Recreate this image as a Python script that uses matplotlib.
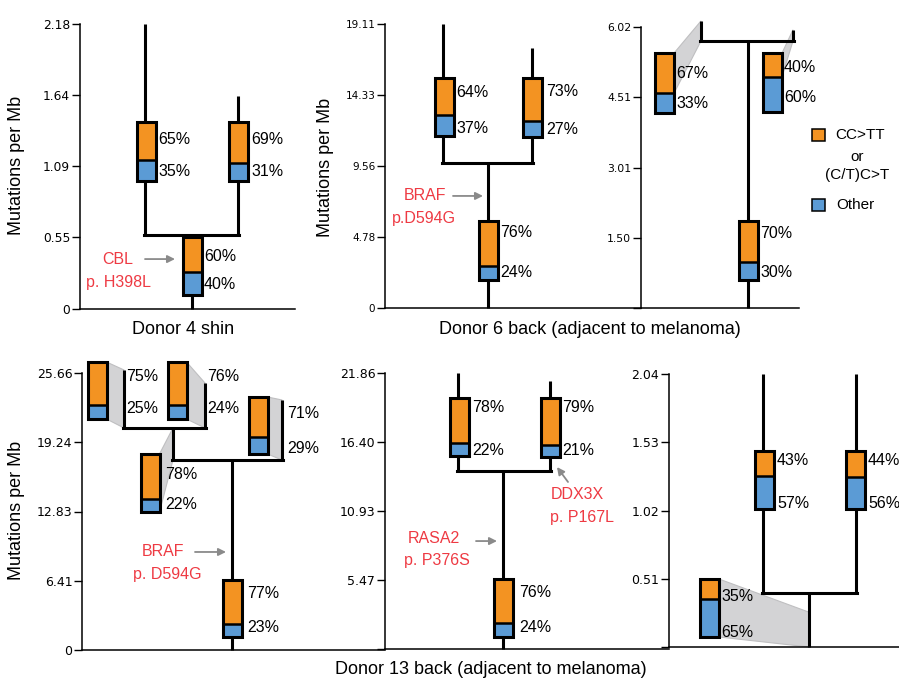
import matplotlib
matplotlib.use("Agg")
import matplotlib.pyplot as plt
from matplotlib.patches import Rectangle, Polygon

plt.rcParams['font.family'] = ['Liberation Sans', 'DejaVu Sans']

W, H = 899, 678
ORANGE = '#F39322'
BLUE = '#5B9BD5'
RED = '#EE3A43'
ARROW = '#8a8a8a'
WEDGE = '#d3d3d5'
LW = 2.2

# ---------------- data (mutations per Mb, % signature) ----------------
# Donor 4 shin
D4_TICKS = [0, 0.55, 1.09, 1.64, 2.18]
D4_TICKLABELS = ['0', '0.55', '1.09', '1.64', '2.18']
D4_STEM_LO = [0.566, 0.566, 0.0]
D4_STEM_HI = [2.18, 1.63, 0.566]
D4_SPLIT_Y = [0.566]
D4_BOX_TOP = [1.43, 1.43, 0.551]
D4_BOX_BOTTOM = [0.98, 0.98, 0.107]
D4_CCTT = [65, 69, 60]
D4_OTHER = [35, 31, 40]

# Donor 6 back
D6_TICKS = [0, 4.78, 9.56, 14.33, 19.11]
D6_TICKLABELS = ['0', '4.78', '9.56', '14.33', '19.11']
D6_STEM_LO = [9.76, 9.76, 0.0]
D6_STEM_HI = [19.11, 17.50, 9.76]
D6_SPLIT_Y = [9.76]
D6_BOX_TOP = [15.48, 15.48, 5.85]
D6_BOX_BOTTOM = [11.57, 11.51, 1.88]
D6_CCTT = [64, 73, 76]
D6_OTHER = [37, 27, 24]

# Donor 6 back, expanded scale
D6Z_TICKS = [0, 1.50, 3.01, 4.51, 6.02]
D6Z_TICKLABELS = ['', '1.50', '3.01', '4.51', '6.02']
D6Z_STEM_LO = [5.72, 5.72, 0.0]
D6Z_STEM_HI = [6.15, 5.96, 5.72]
D6Z_SPLIT_Y = [5.72]
D6Z_BOX_TOP = [5.46, 5.46, 1.86]
D6Z_BOX_BOTTOM = [4.18, 4.20, 0.60]
D6Z_CCTT = [67, 40, 70]
D6Z_OTHER = [33, 60, 30]

# Donor 13 back, left tree
D13_TICKS = [0, 6.41, 12.83, 19.24, 25.66]
D13_TICKLABELS = ['0', '6.41', '12.83', '19.24', '25.66']
D13_STEM_LO = [20.57, 20.57, 17.60, 17.60, 0.0]
D13_STEM_HI = [25.94, 24.73, 20.57, 23.16, 17.60]
D13_SPLIT_Y = [20.57, 17.60]
D13_BOX_TOP = [26.68, 26.68, 18.16, 23.44, 6.48]
D13_BOX_BOTTOM = [21.40, 21.40, 12.78, 18.16, 1.20]
D13_CCTT = [75, 76, 78, 71, 77]
D13_OTHER = [25, 24, 22, 29, 23]

# Donor 13 back, middle tree
D13B_TICKS = [0, 5.47, 10.93, 16.40, 21.86]
D13B_TICKLABELS = ['', '5.47', '10.93', '16.40', '21.86']
D13B_STEM_LO = [14.10, 14.10, 0.0]
D13B_STEM_HI = [21.86, 21.22, 14.10]
D13B_SPLIT_Y = [14.10]
D13B_BOX_TOP = [19.88, 19.88, 5.54]
D13B_BOX_BOTTOM = [15.29, 15.21, 0.95]
D13B_CCTT = [78, 79, 76]
D13B_OTHER = [22, 21, 24]

# Donor 13 back, right tree
D13C_TICKS = [0, 0.51, 1.02, 1.53, 2.04]
D13C_TICKLABELS = ['', '0.51', '1.02', '1.53', '2.04']
D13C_STEM_LO = [0.404, 0.404, 0.0]
D13C_STEM_HI = [2.04, 2.04, 0.404]
D13C_SPLIT_Y = [0.404]
D13C_BOX_TOP = [1.465, 1.465, 0.508]
D13C_BOX_BOTTOM = [1.031, 1.031, 0.075]
D13C_CCTT = [43, 44, 35]
D13C_OTHER = [57, 56, 65]

fig = plt.figure(figsize=(W / 100, H / 100), dpi=100)


def fpos(x, y):
    return x / W, 1 - y / H


def add_panel(left, right, y0, ytop, ticks, ticklabels, tick_size=8):
    ax = fig.add_axes([left / W, 1 - y0 / H, (right - left) / W, (y0 - ytop) / H])
    ax.set_xlim(0, right - left)
    ax.set_ylim(0, ticks[-1])
    for s in ('top', 'right'):
        ax.spines[s].set_visible(False)
    ax.spines['left'].set_linewidth(1.1)
    ax.spines['bottom'].set_linewidth(1.1)
    ax.set_xticks([])
    ax.set_yticks(ticks)
    ax.set_yticklabels(ticklabels, family='DejaVu Sans')
    ax.tick_params(axis='y', direction='out', length=5.5, width=1.0, labelsize=tick_size, pad=1.5)
    ax.patch.set_alpha(0)
    return ax


def draw_stems(ax, xs, lo, hi, split_y, split_x):
    for x, a, b in zip(xs, lo, hi):
        ax.plot([x, x], [a, b], color='k', lw=LW, solid_capstyle='butt', clip_on=False, zorder=2)
    for y, (xa, xb) in zip(split_y, split_x):
        ax.plot([xa - 0.8, xb + 0.8], [y, y], color='k', lw=LW, solid_capstyle='projecting',
                clip_on=False, zorder=2)


def split_of(top, bottom, cctt, other):
    return bottom + (top - bottom) * other / (cctt + other)


def draw_boxes(ax, xs, tops, bottoms, cctt, other, lab_x, lab_y1, lab_y2, w=19):
    for i, xc in enumerate(xs):
        top, bot = tops[i], bottoms[i]
        sp = split_of(top, bot, cctt[i], other[i])
        ax.add_patch(Rectangle((xc - w / 2, bot), w, sp - bot, fc=BLUE, ec='none',
                               zorder=4, clip_on=False))
        ax.add_patch(Rectangle((xc - w / 2, sp), w, top - sp, fc=ORANGE, ec='none',
                               zorder=4, clip_on=False))
        ax.plot([xc - w / 2, xc + w / 2], [sp, sp], color='k', lw=1.8, zorder=5, clip_on=False)
        ax.add_patch(Rectangle((xc - w / 2, bot), w, top - bot, fc='none', ec='k', lw=LW,
                               joinstyle='miter', zorder=6, clip_on=False))
        ax.text(lab_x[i], lab_y1[i], f'{cctt[i]}%', fontsize=11.5, ha='left', va='center',
                zorder=7, clip_on=False)
        ax.text(lab_x[i], lab_y2[i], f'{other[i]}%', fontsize=11.5, ha='left', va='center',
                zorder=7, clip_on=False)


def draw_wedge(ax, bx, b_hi, b_lo, lx, l_hi, l_lo):
    ax.add_patch(Polygon([(bx, b_hi), (lx, l_hi), (lx, l_lo), (bx, b_lo)], closed=True,
                         fc=WEDGE, ec='#bfbfc1', lw=0.8, zorder=1, clip_on=False))


def mutation_note(ax, lines, tx, ty, dy, start, end):
    for k, s in enumerate(lines):
        ax.text(tx[k], ty - k * dy, s, color=RED, fontsize=11.5, ha='center', va='center',
                clip_on=False)
    ax.annotate('', xy=end, xytext=start,
                arrowprops=dict(arrowstyle='-|>', color=ARROW, lw=1.3, mutation_scale=11,
                                shrinkA=0, shrinkB=0), annotation_clip=False)


# ---------------- Donor 4 shin ----------------
ax1 = add_panel(80, 295, 309, 24, D4_TICKS, D4_TICKLABELS, tick_size=8.8)
draw_stems(ax1, [65, 158, 112], D4_STEM_LO, D4_STEM_HI, D4_SPLIT_Y, [(65, 158)])
draw_boxes(ax1, [66, 158, 112], D4_BOX_TOP, D4_BOX_BOTTOM, D4_CCTT, D4_OTHER,
           [78, 171, 124], [1.293, 1.293, 0.398], [1.048, 1.048, 0.184])
mutation_note(ax1, ['CBL', 'p. H398L'], [38, 38], 0.382, 0.183, (65, 0.382), (95, 0.382))

# ---------------- Donor 6 back ----------------
ax2 = add_panel(385, 641, 308, 24, D6_TICKS, D6_TICKLABELS, tick_size=7.5)
draw_stems(ax2, [58, 147, 103], D6_STEM_LO, D6_STEM_HI, D6_SPLIT_Y, [(58, 147)])
draw_boxes(ax2, [59, 147, 103], D6_BOX_TOP, D6_BOX_BOTTOM, D6_CCTT, D6_OTHER,
           [71, 161, 115], [14.47, 14.60, 5.11], [12.11, 11.98, 2.36])
mutation_note(ax2, ['BRAF', 'p.D594G'], [40, 39], 7.54, 1.55, (68, 7.54), (98, 7.54))

# ---------------- Donor 6 back, expanded ----------------
ax3 = add_panel(641, 799, 308, 27, D6Z_TICKS, D6Z_TICKLABELS, tick_size=7.8)
draw_stems(ax3, [60, 152, 107], D6Z_STEM_LO, D6Z_STEM_HI, D6Z_SPLIT_Y, [(60, 152)])
s0 = split_of(D6Z_BOX_TOP[0], D6Z_BOX_BOTTOM[0], D6Z_CCTT[0], D6Z_OTHER[0])
s1 = split_of(D6Z_BOX_TOP[1], D6Z_BOX_BOTTOM[1], D6Z_CCTT[1], D6Z_OTHER[1])
draw_wedge(ax3, 33, D6Z_BOX_TOP[0], s0, 60, D6Z_STEM_HI[0], D6Z_STEM_LO[0])
draw_wedge(ax3, 141, D6Z_BOX_TOP[1], s1, 152, D6Z_STEM_HI[1], D6Z_STEM_LO[1])
draw_boxes(ax3, [23, 131, 107], D6Z_BOX_TOP, D6Z_BOX_BOTTOM, D6Z_CCTT, D6Z_OTHER,
           [35, 143, 119], [5.03, 5.16, 1.59], [4.39, 4.52, 0.75])

# ---------------- Donor 13 back, left ----------------
ax4 = add_panel(82, 385, 650, 373, D13_TICKS, D13_TICKLABELS, tick_size=9)
draw_stems(ax4, [42, 123, 91, 200, 150], D13_STEM_LO, D13_STEM_HI, D13_SPLIT_Y,
           [(42, 123), (91, 200)])
box_x4 = [15, 95, 68, 176, 150]
wedge_to = [(42, 0), (123, 1), (91, 2), (200, 3)]
for bi, (lx, si) in enumerate(wedge_to):
    draw_wedge(ax4, box_x4[bi] + 9.5, D13_BOX_TOP[bi], D13_BOX_BOTTOM[bi], lx,
               D13_STEM_HI[si], D13_STEM_LO[si])
draw_boxes(ax4, box_x4, D13_BOX_TOP, D13_BOX_BOTTOM, D13_CCTT, D13_OTHER,
           [44, 125, 83, 205, 165], [25.29, 25.29, 16.30, 21.95, 5.19],
           [22.33, 22.33, 13.52, 18.71, 2.04])
mutation_note(ax4, ['BRAF', 'p. D594G'], [81, 85], 9.08, 2.04, (113, 9.08), (144, 9.08))

# ---------------- Donor 13 back, middle ----------------
ax5 = add_panel(385, 669, 649, 373, D13B_TICKS, D13B_TICKLABELS, tick_size=9)
draw_stems(ax5, [73, 165, 118], D13B_STEM_LO, D13B_STEM_HI, D13B_SPLIT_Y, [(73, 165)])
draw_boxes(ax5, [74, 165, 118], D13B_BOX_TOP, D13B_BOX_BOTTOM, D13B_CCTT, D13B_OTHER,
           [87, 177, 134], [19.09, 19.09, 4.44], [15.76, 15.76, 1.74])
mutation_note(ax5, ['RASA2', 'p. P376S'], [49, 52], 8.79, 1.82, (91, 8.55), (112, 8.55))
mutation_note(ax5, ['DDX3X', 'p. P167L'], [192, 197], 12.20, 1.82, (183, 13.23), (172, 14.41))

# ---------------- Donor 13 back, right ----------------
ax6 = add_panel(669, 899, 647, 374, D13C_TICKS, D13C_TICKLABELS, tick_size=9)
draw_stems(ax6, [94, 187, 140], D13C_STEM_LO, D13C_STEM_HI, D13C_SPLIT_Y, [(94, 187)])
draw_wedge(ax6, 50, D13C_BOX_TOP[2], D13C_BOX_BOTTOM[2], 140, 0.26, 0.0)
draw_boxes(ax6, [95, 186, 40], D13C_BOX_TOP, D13C_BOX_BOTTOM, D13C_CCTT, D13C_OTHER,
           [108, 199, 52], [1.39, 1.39, 0.381], [1.07, 1.07, 0.112])

# ---------------- axis titles ----------------
fig.text(*fpos(17, 165), 'Mutations per Mb', rotation=90, fontsize=13, ha='center', va='center')
fig.text(*fpos(326, 167), 'Mutations per Mb', rotation=90, fontsize=13, ha='center', va='center')
fig.text(*fpos(17, 510), 'Mutations per Mb', rotation=90, fontsize=13, ha='center', va='center')
fig.text(*fpos(183, 329), 'Donor 4 shin', fontsize=13, ha='center', va='center')
fig.text(*fpos(590, 329), 'Donor 6 back (adjacent to melanoma)', fontsize=13,
         ha='center', va='center')
fig.text(*fpos(491, 670), 'Donor 13 back (adjacent to melanoma)', fontsize=13,
         ha='center', va='center')

# ---------------- legend ----------------
for (cy, col) in [(135, ORANGE), (205, BLUE)]:
    x0, y0 = fpos(812, cy + 6)
    fig.patches.append(Rectangle((x0, y0), 13 / W, 12 / H, fc=col, ec='k', lw=1.1,
                                 transform=fig.transFigure, figure=fig))
fig.text(*fpos(835, 135), 'CC>TT', fontsize=11, ha='left', va='center')
fig.text(*fpos(857, 157), 'or', fontsize=11, ha='center', va='center')
fig.text(*fpos(857, 175), '(C/T)C>T', fontsize=11, ha='center', va='center')
fig.text(*fpos(836, 205), 'Other', fontsize=11, ha='left', va='center')

fig.savefig('out.png', dpi=100)
